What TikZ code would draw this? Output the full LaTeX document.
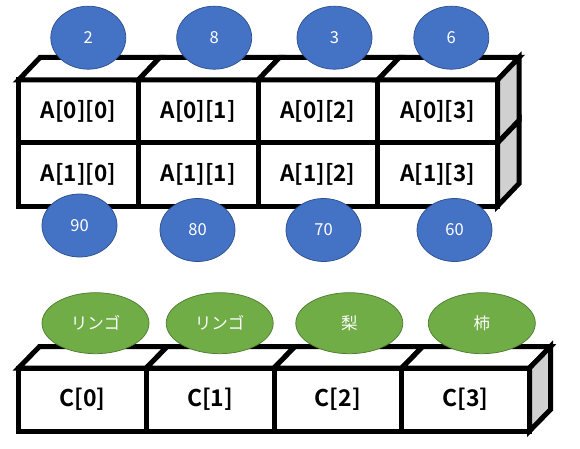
\documentclass[tikz,border=0pt]{standalone}
\usepackage{fontspec}
\setmainfont{Noto Sans CJK JP}[BoldFont={* Bold}]
\usetikzlibrary{shapes.geometric}
\usetikzlibrary{positioning}
\usepackage{xcolor}
\definecolor{valblue}{RGB}{68,114,196}
\definecolor{valblueline}{RGB}{47,82,143}
\definecolor{valgreen}{RGB}{112,173,71}
\definecolor{valgreenline}{RGB}{80,126,50}
\definecolor{sidegray}{RGB}{208,208,208}

\begin{document}
\begin{tikzpicture}[x=1pt, y=-1pt]
        % ================= 样式定义 =================
        \tikzset{
            % 格子:白底粗黑框
            acell/.style={rectangle, draw=black, line width=5pt, fill=white, inner sep=0pt, outer sep=0pt,
                minimum width=119.75pt, minimum height=63pt, font=\bfseries\fontsize{22.5}{26}\selectfont},
            ccell/.style={acell, minimum width=127.75pt, font=\bfseries\fontsize{23}{27}\selectfont},
            % 顶面与侧面
            topface/.style={draw=black, line width=5pt, fill=white, line join=miter},
            sideface/.style={draw=black, line width=5pt, fill=sidegray, line join=miter},
            % 值:椭圆
            bval/.style={ellipse, draw=valblueline, line width=0.75pt, fill=valblue, text=white, inner sep=0pt,
                minimum width=75pt, minimum height=63pt, font=\fontsize{16.5}{19}\selectfont},
            gval/.style={bval, draw=valgreenline, fill=valgreen, minimum width=107pt, minimum height=61pt}
        }
        \useasboundingbox (0,0) rectangle (580,449);

        % ================= 1. 二维数组 A =================
        \node[acell] (a00) at (78.4,111.5) {A[0][0]};
        \node[acell, right=0pt of a00] (a01) {A[0][1]};
        \node[acell, right=0pt of a01] (a02) {A[0][2]};
        \node[acell, right=0pt of a02] (a03) {A[0][3]};

        \node[acell, below=0pt of a00] (a10) {A[1][0]};
        \node[acell, right=0pt of a10] (a11) {A[1][1]};
        \node[acell, right=0pt of a11] (a12) {A[1][2]};
        \node[acell, right=0pt of a12] (a13) {A[1][3]};

        % 顶面
        \draw[topface] (a00.north west) -- ++(21.5,-22.5) -- ++(119.75,0) -- (a00.north east) -- cycle;
        \draw[topface] (a01.north west) -- ++(21.5,-22.5) -- ++(119.75,0) -- (a01.north east) -- cycle;
        \draw[topface] (a02.north west) -- ++(21.5,-22.5) -- ++(119.75,0) -- (a02.north east) -- cycle;
        \draw[topface] (a03.north west) -- ++(21.5,-22.5) -- ++(119.75,0) -- (a03.north east) -- cycle;

        % 侧面
        \draw[sideface] (a03.north east) -- ++(21.5,-22.5) -- ++(0,63) -- (a03.south east) -- cycle;
        \draw[sideface] (a13.north east) -- ++(21.5,-22.5) -- ++(0,63) -- (a13.south east) -- cycle;

        % 第0行的值
        \node[bval] (v00) at (88.3,37.7) {2};
        \node[bval] (v01) at (214.2,37.7) {8};
        \node[bval] (v02) at (334.5,37.7) {3};
        \node[bval] (v03) at (451.3,37.7) {6};

        % 第1行的值
        \node[bval] (v10) at (79.5,225.5) {90};
        \node[bval] (v11) at (197.5,230) {80};
        \node[bval] (v12) at (323.5,230) {70};
        \node[bval] (v13) at (454.5,230) {60};

        % ================= 2. 一维数组 C =================
        \node[ccell] (c0) at (82.4,399.5) {C[0]};
        \node[ccell, right=0pt of c0] (c1) {C[1]};
        \node[ccell, right=0pt of c1] (c2) {C[2]};
        \node[ccell, right=0pt of c2] (c3) {C[3]};

        % 顶面
        \draw[topface] (c0.north west) -- ++(21,-21.5) -- ++(127.75,0) -- (c0.north east) -- cycle;
        \draw[topface] (c1.north west) -- ++(21,-21.5) -- ++(127.75,0) -- (c1.north east) -- cycle;
        \draw[topface] (c2.north west) -- ++(21,-21.5) -- ++(127.75,0) -- (c2.north east) -- cycle;
        \draw[topface] (c3.north west) -- ++(21,-21.5) -- ++(127.75,0) -- (c3.north east) -- cycle;

        % 侧面
        \draw[sideface] (c3.north east) -- ++(21,-21.5) -- ++(0,63) -- (c3.south east) -- cycle;

        % 值
        \node[gval] (w0) at (95.5,323.2) {リンゴ};
        \node[gval] (w1) at (219.7,323.2) {リンゴ};
        \node[gval] (w2) at (349.3,323.2) {梨};
        \node[gval] (w3) at (481.8,323.2) {柿};

    \end{tikzpicture}
\end{document}
